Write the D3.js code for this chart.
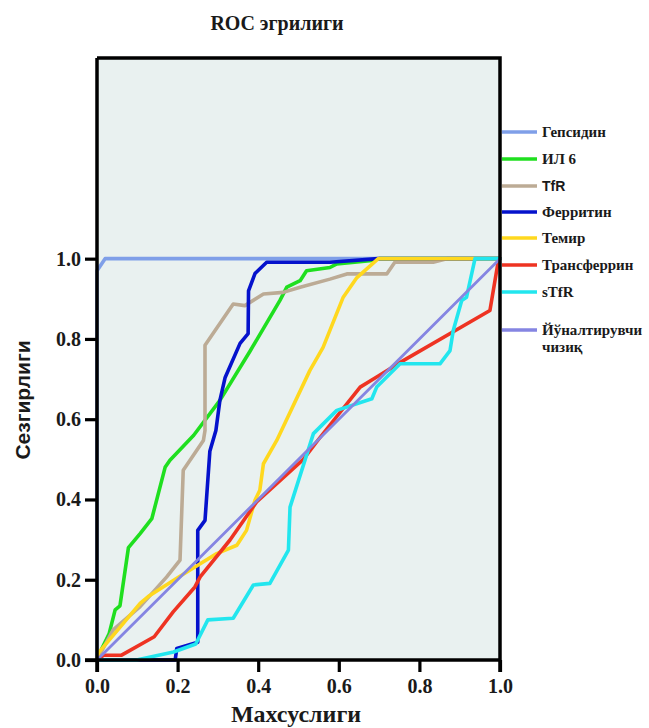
<!DOCTYPE html>
<html>
<head>
<meta charset="utf-8">
<script src="https://cdn.jsdelivr.net/npm/d3@7"></script>
<style>
  html, body { margin: 0; padding: 0; background: #ffffff; }
  svg { display: block; }
</style>
</head>
<body>
<svg id="chart" width="649" height="728"></svg>
<script>
// ROC curves: [1 - specificity, sensitivity]
const hepcidin = [[0,0],[0,0.97],[0.02,1],[1,1]];
const il6 = [[0,0],[0.003,0.01],[0.03,0.065],[0.045,0.125],[0.057,0.135],[0.078,0.28],[0.107,0.315],
  [0.136,0.352],[0.169,0.48],[0.181,0.498],[0.24,0.56],[0.305,0.647],[0.38,0.77],[0.454,0.896],
  [0.471,0.929],[0.504,0.945],[0.52,0.97],[0.578,0.978],[0.595,0.987],[0.677,0.995],[0.70,1.0],[1,1]];
const tfr = [[0,0],[0.04,0.075],[0.107,0.133],[0.173,0.207],[0.206,0.249],[0.214,0.473],[0.264,0.547],
  [0.268,0.572],[0.268,0.784],[0.338,0.887],[0.367,0.883],[0.413,0.912],[0.462,0.916],[0.504,0.929],
  [0.578,0.949],[0.62,0.962],[0.719,0.962],[0.739,0.991],[0.834,0.991],[0.868,1.0],[1,1]];
const ferritin = [[0,0],[0.194,0],[0.198,0.029],[0.25,0.044],[0.25,0.323],[0.268,0.348],[0.28,0.52],
  [0.295,0.572],[0.305,0.647],[0.318,0.704],[0.355,0.789],[0.375,0.813],[0.376,0.92],[0.392,0.963],
  [0.421,0.991],[0.578,0.991],[0.698,1.0],[1,1]];
const iron = [[0,0],[0.003,0.017],[0.107,0.141],[0.127,0.158],[0.2,0.205],[0.256,0.24],[0.297,0.265],
  [0.347,0.286],[0.371,0.323],[0.392,0.398],[0.404,0.423],[0.413,0.489],[0.446,0.547],[0.528,0.721],
  [0.561,0.779],[0.611,0.904],[0.645,0.953],[0.698,1.0],[1,1]];
const transferrin = [[0,0],[0.016,0.012],[0.061,0.012],[0.142,0.058],[0.189,0.12],[0.243,0.182],
  [0.256,0.207],[0.33,0.299],[0.396,0.394],[0.512,0.50],[0.55,0.55],[0.653,0.68],[0.694,0.705],
  [0.76,0.746],[0.975,0.871],[0.995,0.99],[1,1]];
const stfr = [[0,0],[0.098,0],[0.19,0.02],[0.245,0.04],[0.275,0.1],[0.338,0.104],[0.388,0.187],
  [0.429,0.191],[0.475,0.274],[0.479,0.381],[0.537,0.564],[0.595,0.622],[0.682,0.651],[0.694,0.68],
  [0.752,0.738],[0.851,0.738],[0.876,0.771],[0.884,0.821],[0.905,0.896],[0.917,0.904],[0.938,1.0],[1,1]];
const reference = [[0,0],[1,1]];

const seriesNames = ["Гепсидин", "ИЛ 6", "TfR", "Ферритин", "Темир", "Трансферрин", "sTfR", "Йўналтирувчи чизиқ"];
const seriesData = [hepcidin, il6, tfr, ferritin, iron, transferrin, stfr, reference];
const seriesColors = ["#7f9fe8", "#1fdf1f", "#bcab95", "#0512cc", "#ffd81e", "#ee3322", "#22e6ee", "#8585e2"];

const xTicks = [0, 0.2, 0.4, 0.6, 0.8, 1.0];
const yTicks = [0, 0.2, 0.4, 0.6, 0.8, 1.0];
const titleText = "ROC эгрилиги";
const xTitle = "Махсуслиги";
const yTitle = "Сезгирлиги";

const svg = d3.select("#chart");
const serif = "'Liberation Serif', 'Times New Roman', serif";
const sans = "'Liberation Sans', Arial, sans-serif";

const plot = { left: 97, right: 500, top: 58, bottom: 660 };
const x = d3.scaleLinear().domain([0, 1]).range([plot.left, plot.right]);
const y = d3.scaleLinear().domain([0, 1.5]).range([plot.bottom, plot.top]);

// plot background
svg.append("rect")
  .attr("x", plot.left).attr("y", plot.top)
  .attr("width", plot.right - plot.left).attr("height", plot.bottom - plot.top)
  .attr("fill", "#e9f1f0");

// curves
const line = d3.line().x(d => x(d[0])).y(d => y(d[1]));
seriesData.forEach((data, i) => {
  svg.append("path")
    .datum(data)
    .attr("d", line)
    .attr("fill", "none")
    .attr("stroke", seriesColors[i])
    .attr("stroke-width", i === 7 ? 2.8 : 3.6)
    .attr("stroke-linejoin", "round")
    .attr("stroke-linecap", "round");
});

// frame (top and right sides)
svg.append("path")
  .attr("d", `M${plot.left},${plot.top}H${plot.right}V${plot.bottom + 12}`)
  .attr("fill", "none").attr("stroke", "#000").attr("stroke-width", 3.5);

// axes
const fmt = d3.format(".1f");
const xAxis = svg.append("g")
  .attr("transform", `translate(0,${plot.bottom})`)
  .call(d3.axisBottom(x).tickValues(xTicks).tickFormat(fmt).tickSize(12).tickSizeOuter(0).tickPadding(7));
const yAxis = svg.append("g")
  .attr("transform", `translate(${plot.left},0)`)
  .call(d3.axisLeft(y).tickValues(yTicks).tickFormat(fmt).tickSize(12).tickSizeOuter(0).tickPadding(4));

[xAxis, yAxis].forEach(g => {
  g.select(".domain").attr("stroke", "#000").attr("stroke-width", 3.5);
  g.selectAll(".tick line").attr("stroke", "#000").attr("stroke-width", 3.2);
  g.selectAll(".tick text")
    .attr("fill", "#1a1a1a")
    .style("font-family", serif).style("font-weight", "bold").style("font-size", "20px");
});
// left axis spans the whole frame height
yAxis.select(".domain").attr("d", `M0,${plot.top}V${plot.bottom + 12}`);
xAxis.select(".domain").attr("d", `M${plot.left - 12},0H${plot.right}`);

// titles
svg.append("text")
  .attr("x", 277).attr("y", 30)
  .attr("text-anchor", "middle")
  .style("font-family", serif).style("font-weight", "bold").style("font-size", "20px")
  .attr("fill", "#1a1a1a")
  .text(titleText);

svg.append("text")
  .attr("x", 296).attr("y", 722)
  .attr("text-anchor", "middle")
  .style("font-family", serif).style("font-weight", "bold").style("font-size", "24px")
  .attr("fill", "#1a1a1a")
  .text(xTitle);

svg.append("text")
  .attr("transform", "translate(30,400) rotate(-90)")
  .attr("text-anchor", "middle")
  .style("font-family", sans).style("font-weight", "bold").style("font-size", "21px")
  .attr("fill", "#1a1a1a")
  .text(yTitle);

// legend
const legendY = [132, 159, 186, 212, 238, 265, 292, 330];
const legend = svg.append("g");
seriesNames.forEach((name, i) => {
  const ly = legendY[i];
  legend.append("line")
    .attr("x1", 502).attr("x2", 537).attr("y1", ly).attr("y2", ly)
    .attr("stroke", seriesColors[i]).attr("stroke-width", 3.4);
  const t = legend.append("text")
    .attr("x", 542).attr("y", ly + 5)
    .attr("fill", "#1a1a1a")
    .style("font-family", name === "TfR" ? sans : serif)
    .style("font-weight", "bold").style("font-size", name === "TfR" ? "14px" : "15px");
  const words = name.split(" ");
  if (i === 7) {
    t.append("tspan").attr("x", 542).text(words[0]);
    t.append("tspan").attr("x", 542).attr("dy", 17).text(words[1]);
  } else {
    t.text(name);
  }
});
</script>
</body>
</html>
